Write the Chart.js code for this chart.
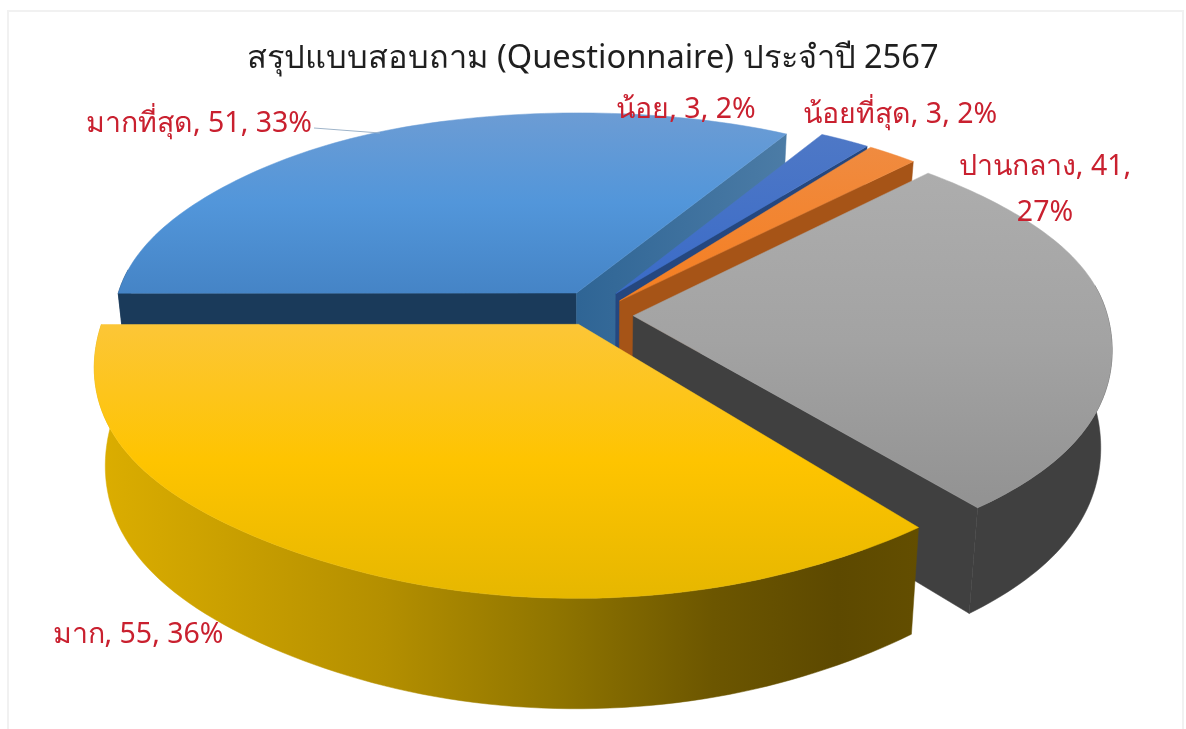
<!DOCTYPE html>
<html lang="th">
<head>
<meta charset="utf-8">
<title>สรุปแบบสอบถาม</title>
<script src="https://cdn.jsdelivr.net/npm/chart.js@4"></script>
<style>
  html, body { margin: 0; padding: 0; background: #fff; }
  #wrap { position: relative; width: 1186px; height: 729px; overflow: hidden; }
  #frame { position: absolute; left: 7px; top: 10px; width: 1177px; height: 740px; border: 2px solid #f1f1f1; box-sizing: border-box; }
  canvas { position: absolute; left: 0; top: 0; }
</style>
</head>
<body>
<div id="wrap">
  <div id="frame"></div>
  <canvas id="pieChart" width="1186" height="729"></canvas>
</div>
<script>
// data, in the order the chart keeps them (clockwise from the orange slice)
const categories = ['น้อยที่สุด', 'ปานกลาง', 'มาก', 'มากที่สุด', 'น้อย']
const values = [3, 41, 55, 51, 3]
const titleText = 'สรุปแบบสอบถาม (Questionnaire) ประจำปี 2567'

const fontFamily = "'Noto Sans', 'Open Sans', sans-serif"

// painter order, back to front
const drawOrder = [3, 4, 0, 1, 2]

// colours per slice: top face stops, cut wall, outer wall stops
const topStops = [
  ['#f08b40', '#f57e20'],
  ['#adadad', '#a3a3a3', '#929292'],
  ['#fcc637', '#fec400', '#e6b700'],
  ['#6c9cd4', '#5296da', '#4584c6'],
  ['#4e78c6', '#3a6bc8']
]
const wallFill = ['#a65417', '#404040', '#5e4a00', '#1a3a5a', '#25477f']
const endWallFill = ['#a65417', '#404040', '#5e4a00', '#35699a', '#25477f']
const yellowWallStops = [[0, '#dcae00'], [0.35, '#b48f00'], [0.55, '#917600'], [0.75, '#6c5600'], [0.9, '#5d4900'], [1, '#634e00']]

// the inner corner of orange and gray sits a little lower than the explode gives
const tipNudge = [6, 7, 0, 0, 0]

// label spots on the page
const labelSpots = [
  { x: 900, y: 115 },
  { x: 1045, y: 167, second: 213 },
  { x: 138, y: 635 },
  { x: 199, y: 124 },
  { x: 686, y: 110 }
]

// camera for the tilted pie
const cam = { cx: 595, cy: 308, a: 472, b: 217.8, d: 95, gx: 0.14, gy: 0.1817, gz: 0.13, taper: 0.022 }

function project(u, v, z) {
  const vv = v * v
  const rest = Math.max(0, 1 - vv)
  const bulge = vv * rest * rest
  // small lens fix so the rim is as full as the picture
  let fx = 1
  if (v > 0) fx += 0.09 * bulge
  if (u < 0 && v <= 0) fx -= 0.02 * rest * rest
  const dy = (v > 0 ? 35 : 25) * bulge
  const x = cam.cx + cam.a * fx * u / (1 - cam.gx * v) * (1 - cam.taper * z)
  const y = cam.cy + cam.b * v / (1 - cam.gy * v) + dy + cam.d * z / (1 - cam.gz * v)
  return [x, y]
}

function fillPoly(ctx, pts, fill) {
  ctx.beginPath()
  pts.forEach((p, i) => i ? ctx.lineTo(p[0], p[1]) : ctx.moveTo(p[0], p[1]))
  ctx.closePath()
  ctx.fillStyle = fill
  ctx.fill()
  ctx.strokeStyle = fill
  ctx.lineWidth = 0.5
  ctx.stroke()
}

const pie3d = {
  id: 'pie3d',
  // the flat arcs are replaced by the tilted ones below
  beforeDatasetDraw() { return false },
  afterDatasetsDraw(chart) {
    const ctx = chart.ctx
    const arcs = chart.getDatasetMeta(0).data
    ctx.save()
    drawOrder.forEach(i => {
      const el = arcs[i]
      const start = el.startAngle
      const end = el.endAngle
      const mid = (start + end) / 2
      const off = el.options.offset / el.outerRadius
      const ou = off * Math.cos(mid)
      const ov = off * Math.sin(mid)
      const tip = z => {
        const p = project(ou, ov, z)
        return [p[0], p[1] + tipNudge[i]]
      }
      const rim = (t, z) => project(ou + Math.cos(t), ov + Math.sin(t), z)

      const samples = []
      const n = 90
      for (let k = 0; k <= n; k++) samples.push(start + (end - start) * k / n)

      // outer wall, front part only
      const front = samples.filter(t => Math.sin(t) > -0.12)
      if (front.length > 1) {
        const pts = front.map(t => rim(t, 0)).concat(front.slice().reverse().map(t => rim(t, 1)))
        let fill = wallFill[i]
        if (i === 2) {
          const g = ctx.createLinearGradient(95, 0, 920, 0)
          yellowWallStops.forEach(s => g.addColorStop(s[0], s[1]))
          fill = g
        }
        fillPoly(ctx, pts, fill)
      }

      // cut walls facing the viewer
      if (-Math.cos(start) > 0.05) {
        fillPoly(ctx, [tip(0), rim(start, 0), rim(start, 1), tip(1)], wallFill[i])
      }
      if (Math.cos(end) > 0.05) {
        let fill = endWallFill[i]
        if (i === 3) {
          const g = ctx.createLinearGradient(578, 0, 790, 0)
          g.addColorStop(0, '#2f6595')
          g.addColorStop(1, '#4c7ca6')
          fill = g
        }
        fillPoly(ctx, [tip(0), rim(end, 0), rim(end, 1), tip(1)], fill)
      }

      // top face
      const top = [tip(0)].concat(samples.map(t => rim(t, 0)))
      const ys = top.map(p => p[1])
      const g = ctx.createLinearGradient(0, Math.min(...ys), 0, Math.max(...ys))
      topStops[i].forEach((c, k) => g.addColorStop(k / (topStops[i].length - 1), c))
      fillPoly(ctx, top, g)
    })
    ctx.restore()
  },
  afterDraw(chart) {
    const ctx = chart.ctx
    const total = values.reduce((a, b) => a + b, 0)
    ctx.save()
    // leader line of the blue slice
    ctx.strokeStyle = '#9fb4c9'
    ctx.lineWidth = 1
    ctx.beginPath()
    ctx.moveTo(314, 128)
    ctx.lineTo(380, 133)
    ctx.stroke()

    ctx.font = `28.5px ${fontFamily}`
    ctx.fillStyle = '#c9202f'
    ctx.textAlign = 'center'
    ctx.textBaseline = 'middle'
    categories.forEach((name, i) => {
      const pct = Math.round(values[i] / total * 100)
      const spot = labelSpots[i]
      if (spot.second) {
        ctx.fillText(`${name}, ${values[i]},`, spot.x, spot.y)
        ctx.fillText(`${pct}%`, spot.x, spot.second)
      } else {
        ctx.fillText(`${name}, ${values[i]}, ${pct}%`, spot.x, spot.y)
      }
    })
    ctx.restore()
  }
}

new Chart(document.getElementById('pieChart').getContext('2d'), {
  type: 'pie',
  data: {
    labels: categories,
    datasets: [{
      data: values,
      backgroundColor: ['#ed7d31', '#a5a5a5', '#ffc000', '#5b9bd5', '#4472c4'],
      offset: 25,
      borderWidth: 0
    }]
  },
  options: {
    responsive: false,
    animation: false,
    rotation: 37,
    plugins: {
      legend: { display: false },
      tooltip: { enabled: false },
      title: {
        display: true,
        text: titleText,
        color: '#1f1f1f',
        font: { family: fontFamily, size: 32.6, weight: 'normal' },
        padding: { top: 39, bottom: 8 }
      }
    }
  },
  plugins: [pie3d]
})
</script>
</body>
</html>
